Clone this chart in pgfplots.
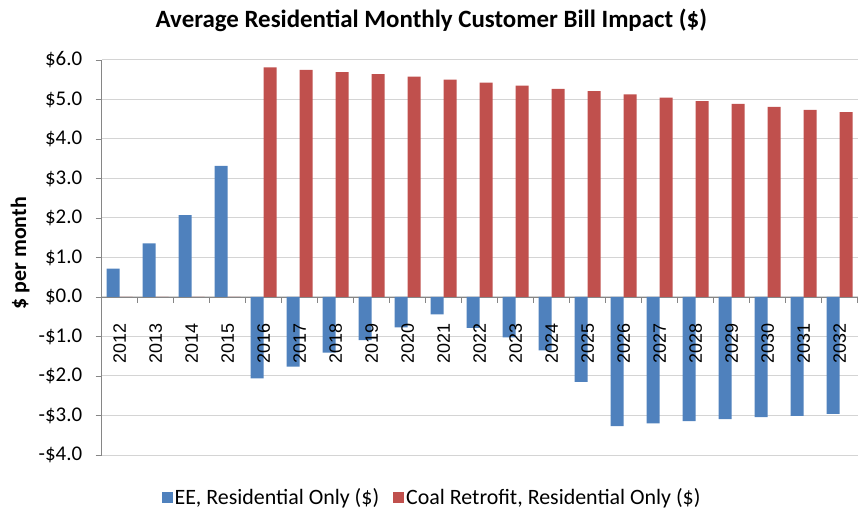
\documentclass[border=0pt]{standalone}
\usepackage{pgfplots}
\pgfplotsset{compat=1.18}
\usepackage{fontspec}
\setmainfont{Carlito}
\newfontfamily\arialfont{Liberation Sans}
\definecolor{eeblue}{HTML}{4F81BD}
\definecolor{coalred}{HTML}{C0504D}
\definecolor{gridgray}{HTML}{D4D4D4}
\definecolor{axisgray}{HTML}{868686}
\pgfplotsset{
  commonax/.style={
    at={(0,0)}, anchor=south west,
    scale only axis, width=756bp, height=395bp,
    xmin=-0.5, xmax=20.5, ymin=-4, ymax=6,
    axis line style={axisgray, line width=0.9bp},
    tick align=outside, major tick length=6bp,
    tick style={axisgray, line width=0.9bp},
  },
}
\begin{document}
\begin{tikzpicture}
\begin{axis}[
  commonax,
  axis x line*=middle, axis y line*=left,
  ybar=0pt, bar width=13bp,
  ytick={-4,-3,-2,-1,0,1,2,3,4,5,6},
  yticklabels={-\$4.0,-\$3.0,-\$2.0,-\$1.0,\$0.0,\$1.0,\$2.0,\$3.0,\$4.0,\$5.0,\$6.0},
  yticklabel style={font=\fontsize{21}{21}\selectfont, color=black, xshift=-10bp},
  ymajorgrids, grid style={gridgray, line width=1bp},
  xtick={0.5,1.5,...,20.5}, xticklabels={},
  ylabel={\bfseries \$ per month},
  every axis y label/.style={at={(axis description cs:-0.108,0.511)}, rotate=90, anchor=center, font=\fontsize{22}{22}\selectfont},
  title={\bfseries Average Residential Monthly Customer Bill Impact (\$)},
  every axis title/.style={at={(axis description cs:0.436,1)}, anchor=center, yshift=40bp, font=\fontsize{25}{25}\selectfont},
  legend style={at={(axis description cs:0.437,0)}, anchor=center, yshift=-42bp, draw=none, fill=none,
    legend columns=2, font=\fontsize{22}{22}\selectfont,
    /tikz/every even column/.append style={column sep=12bp}},
  legend image code/.code={\fill[#1] (3bp,-5.5bp) rectangle (14bp,5.5bp);},
]
\addplot[fill=eeblue, draw=none] coordinates {
(0,0.72) (1,1.36) (2,2.07) (3,3.32) (4,-2.06) (5,-1.76) (6,-1.41) (7,-1.09) (8,-0.77) (9,-0.44) (10,-0.78)
(11,-1.02) (12,-1.35) (13,-2.15) (14,-3.27) (15,-3.20) (16,-3.14) (17,-3.09) (18,-3.04) (19,-3.01) (20,-2.96)};
\addlegendentry{EE, Residential Only (\$)}
\addplot[fill=coalred, draw=none] coordinates {
(0,0) (1,0) (2,0) (3,0) (4,5.81) (5,5.75) (6,5.69) (7,5.64) (8,5.58) (9,5.50) (10,5.43)
(11,5.35) (12,5.27) (13,5.21) (14,5.13) (15,5.05) (16,4.96) (17,4.89) (18,4.81) (19,4.74) (20,4.68)};
\addlegendentry{Coal Retrofit, Residential Only (\$)}
\end{axis}
\begin{axis}[
  commonax,
  axis x line*=middle, axis y line=none,
  xtick={0,1,...,20}, major tick length=0pt,
  xticklabels={2012,2013,2014,2015,2016,2017,2018,2019,2020,2021,2022,2023,2024,2025,2026,2027,2028,2029,2030,2031,2032},
  xticklabel style={rotate=90, anchor=east, font=\arialfont\fontsize{18}{18}\selectfont, xshift=-23bp},
  axis line style={draw=none},
]
\end{axis}
\pgfresetboundingbox
\useasboundingbox (-101.7bp,-57bp) rectangle (759.3bp,455bp);
\end{tikzpicture}
\end{document}
